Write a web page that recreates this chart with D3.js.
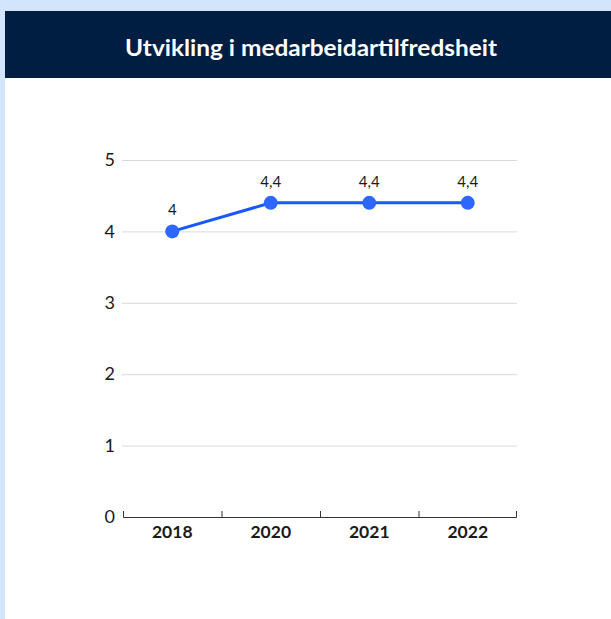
<!DOCTYPE html>
<html>
<head>
<meta charset="utf-8">
<script src="https://cdn.jsdelivr.net/npm/d3@7"></script>
<style>
  html, body { margin: 0; padding: 0; background: #d3e5fc; }
  body { width: 611px; height: 619px; overflow: hidden; }
</style>
</head>
<body>
<svg id="chart" width="611" height="619"></svg>
<script>
// Medarbeidartilfredsheit per år
const title = "Utvikling i medarbeidartilfredsheit";
const years = ["2018", "2020", "2021", "2022"];
const scores = [4, 4.4, 4.4, 4.4];
const yTicks = [0, 1, 2, 3, 4, 5];

const svg = d3.select("#chart");
const W = 611, H = 619;
const font = "Lato, 'Open Sans', sans-serif";

// panel and header
svg.append("rect").attr("x", 5).attr("y", 78).attr("width", W - 5).attr("height", H - 78).attr("fill", "#ffffff");
svg.append("rect").attr("x", 5).attr("y", 11).attr("width", W - 5).attr("height", 67).attr("fill", "#001e41");
svg.append("text")
  .attr("x", 311).attr("y", 56)
  .attr("text-anchor", "middle")
  .attr("fill", "#ffffff")
  .attr("font-family", font)
  .attr("font-weight", "bold")
  .attr("font-size", 23)
  .attr("textLength", 372)
  .attr("lengthAdjust", "spacingAndGlyphs")
  .text(title);

const plotLeft = 123, plotRight = 517, plotTop = 160, plotBottom = 517;

const x = d3.scaleBand().domain(years).range([plotLeft, plotRight]);
const y = d3.scaleLinear().domain([0, 5]).range([plotBottom, plotTop]);

// gridlines
svg.append("g")
  .selectAll("line")
  .data(yTicks.filter(d => d > 0))
  .join("line")
  .attr("x1", plotLeft - 1).attr("x2", plotRight)
  .attr("y1", d => y(d) + 0.5).attr("y2", d => y(d) + 0.5)
  .attr("stroke", "#d9d9d9").attr("stroke-width", 1);

// y axis labels
const yAxis = svg.append("g")
  .attr("transform", `translate(${plotLeft},0)`)
  .call(d3.axisLeft(y).tickValues(yTicks).tickSize(0).tickPadding(8).tickFormat(d3.format("d")));
yAxis.select(".domain").remove();
yAxis.selectAll("text")
  .attr("font-family", font)
  .attr("font-size", 18)
  .attr("fill", "#1a1a1a");

// x axis
const xAxis = svg.append("g")
  .attr("transform", `translate(0,${plotBottom})`)
  .call(d3.axisBottom(x).tickSize(0).tickPadding(9));
xAxis.select(".domain").attr("stroke", "#333").attr("d", `M${plotLeft + 0.5},-6V0.5H${plotRight - 0.5}V-6`);
xAxis.selectAll("text")
  .attr("font-family", font)
  .attr("font-weight", "bold")
  .attr("font-size", 17.5)
  .attr("fill", "#1a1a1a");
// tick marks at band boundaries
xAxis.append("g")
  .selectAll("line")
  .data(years.slice(1))
  .join("line")
  .attr("x1", d => x(d) + 0.5).attr("x2", d => x(d) + 0.5)
  .attr("y1", -6).attr("y2", 0)
  .attr("stroke", "#333");

const cx = d => x(d) + x.bandwidth() / 2;
const pts = years.map((d, i) => ({ year: d, v: scores[i] }));

// line
svg.append("path")
  .datum(pts)
  .attr("fill", "none")
  .attr("stroke", "#1857ff")
  .attr("stroke-width", 3)
  .attr("d", d3.line().x(d => cx(d.year)).y(d => y(d.v)));

// dots
svg.append("g")
  .selectAll("circle")
  .data(pts)
  .join("circle")
  .attr("cx", d => cx(d.year))
  .attr("cy", d => y(d.v))
  .attr("r", 7)
  .attr("fill", "#2e67ff");

// value labels
const fmt = v => String(v).replace(".", ",");
svg.append("g")
  .selectAll("text")
  .data(pts)
  .join("text")
  .attr("x", d => cx(d.year))
  .attr("y", d => y(d.v) - 16)
  .attr("text-anchor", "middle")
  .attr("font-family", font)
  .attr("font-size", 15)
  .attr("fill", "#1a1a1a")
  .text(d => fmt(d.v));
</script>
</body>
</html>
